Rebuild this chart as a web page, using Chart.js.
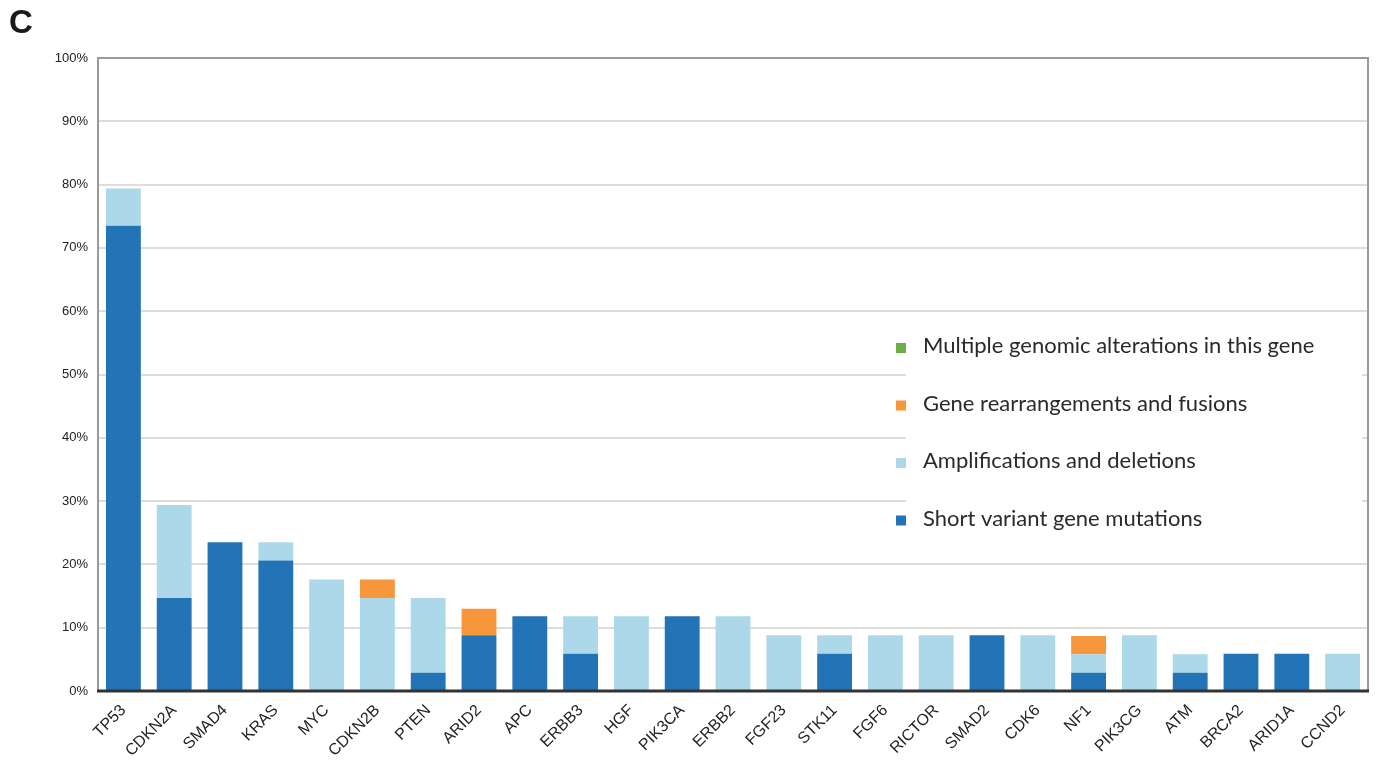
<!DOCTYPE html>
<html>
<head>
<meta charset="utf-8">
<script src="https://cdn.jsdelivr.net/npm/chart.js@4"></script>
<style>
  html, body { margin: 0; padding: 0; background: #fff; }
  #wrap { width: 1376px; height: 764px; position: relative; }
</style>
</head>
<body>
<div id="wrap"><canvas id="geneChart"></canvas></div>
<script>
const genes = ["TP53", "CDKN2A", "SMAD4", "KRAS", "MYC", "CDKN2B", "PTEN", "ARID2", "APC", "ERBB3",
  "HGF", "PIK3CA", "ERBB2", "FGF23", "STK11", "FGF6", "RICTOR", "SMAD2", "CDK6", "NF1",
  "PIK3CG", "ATM", "BRCA2", "ARID1A", "CCND2"];

// percent of patients per alteration type (stacked)
const shortVariant = [73.5, 14.7, 23.5, 20.6, 0, 0, 2.9, 8.8, 11.8, 5.9,
  0, 11.8, 0, 0, 5.9, 0, 0, 8.8, 0, 2.9,
  0, 2.9, 5.9, 5.9, 0];
const ampDel = [5.9, 14.7, 0, 2.9, 17.6, 14.7, 11.8, 0, 0, 5.9,
  11.8, 0, 11.8, 8.8, 2.9, 8.8, 8.8, 0, 8.8, 2.9,
  8.8, 2.9, 0, 0, 5.9];
const rearrangements = [0, 0, 0, 0, 0, 2.9, 0, 4.2, 0, 0,
  0, 0, 0, 0, 0, 0, 0, 0, 0, 2.9,
  0, 0, 0, 0, 0];
const multiple = [0, 0, 0, 0, 0, 0, 0, 0, 0, 0,
  0, 0, 0, 0, 0, 0, 0, 0, 0, 0,
  0, 0, 0, 0, 0];

const yTicks = [0, 10, 20, 30, 40, 50, 60, 70, 80, 90, 100];

const seriesNames = ["Short variant gene mutations", "Amplifications and deletions",
  "Gene rearrangements and fusions", "Multiple genomic alterations in this gene"];
const seriesColors = ["#2374b7", "#acd8ea", "#f7963a", "#6aae45"];

const data = {
  labels: genes,
  datasets: [shortVariant, ampDel, rearrangements, multiple].map((vals, i) => ({
    label: seriesNames[i],
    data: vals,
    backgroundColor: seriesColors[i],
    borderWidth: 0,
    barPercentage: 0.7,
    categoryPercentage: 0.98
  }))
};

// frame round the plot + the "C" panel letter
const framePlugin = {
  id: 'frame',
  afterDatasetsDraw(chart) {
    const { ctx, chartArea: a } = chart;
    ctx.save();
    ctx.strokeStyle = '#9a9a9a';
    ctx.lineWidth = 2;
    ctx.beginPath();
    ctx.moveTo(a.left, a.bottom);
    ctx.lineTo(a.left, a.top);
    ctx.lineTo(a.right, a.top);
    ctx.lineTo(a.right, a.bottom);
    ctx.stroke();
    ctx.strokeStyle = '#333';
    ctx.lineWidth = 3;
    ctx.beginPath();
    ctx.moveTo(a.left - 1, a.bottom);
    ctx.lineTo(a.right + 1, a.bottom);
    ctx.stroke();

    ctx.fillStyle = '#1a1a1a';
    ctx.font = 'bold 33px "Liberation Sans", Arial, sans-serif';
    ctx.textBaseline = 'top';
    ctx.fillText('C', 9, 7);
    ctx.restore();
  }
};

// legend box sitting over the grid, top entry first
const legendPlugin = {
  id: 'boxLegend',
  afterDatasetsDraw(chart) {
    const { ctx } = chart;
    ctx.save();
    ctx.fillStyle = '#fff';
    ctx.fillRect(906, 318, 456, 224);
    ctx.font = '22px Lato, "Open Sans", sans-serif';
    ctx.textBaseline = 'middle';
    const order = [3, 2, 1, 0];
    order.forEach((idx, row) => {
      const y = 346 + row * 57.5;
      ctx.fillStyle = seriesColors[idx];
      ctx.fillRect(896, y - 3, 10, 10);
      ctx.fillStyle = '#2a2a2a';
      ctx.fillText(seriesNames[idx], 923, y);
    });
    ctx.restore();
  }
};

const config = {
  type: 'bar',
  data,
  options: {
    responsive: true,
    maintainAspectRatio: false,
    animation: false,
    layout: { padding: { top: 58, right: 8, left: 0, bottom: 0 } },
    plugins: {
      legend: { display: false },
      tooltip: { enabled: false }
    },
    scales: {
      x: {
        stacked: true,
        grid: { display: false },
        border: { display: false },
        ticks: {
          color: '#222',
          font: { family: '"Liberation Sans", Arial, sans-serif', size: 16 },
          maxRotation: 45,
          minRotation: 45,
          autoSkip: false,
          padding: 2
        },
        afterFit(scale) { scale.height = 73; }
      },
      y: {
        stacked: true,
        min: 0,
        max: 100,
        afterBuildTicks(scale) { scale.ticks = yTicks.map(v => ({ value: v })); },
        grid: { color: '#dddddd', lineWidth: 2, drawTicks: false },
        border: { display: false },
        ticks: {
          color: '#222',
          font: { family: '"Liberation Sans", Arial, sans-serif', size: 13 },
          padding: 10,
          callback: v => v + '%'
        },
        afterFit(scale) { scale.width = 98; }
      }
    }
  },
  plugins: [framePlugin, legendPlugin]
};

const geneChart = new Chart(document.getElementById('geneChart'), config);
</script>
</body>
</html>
